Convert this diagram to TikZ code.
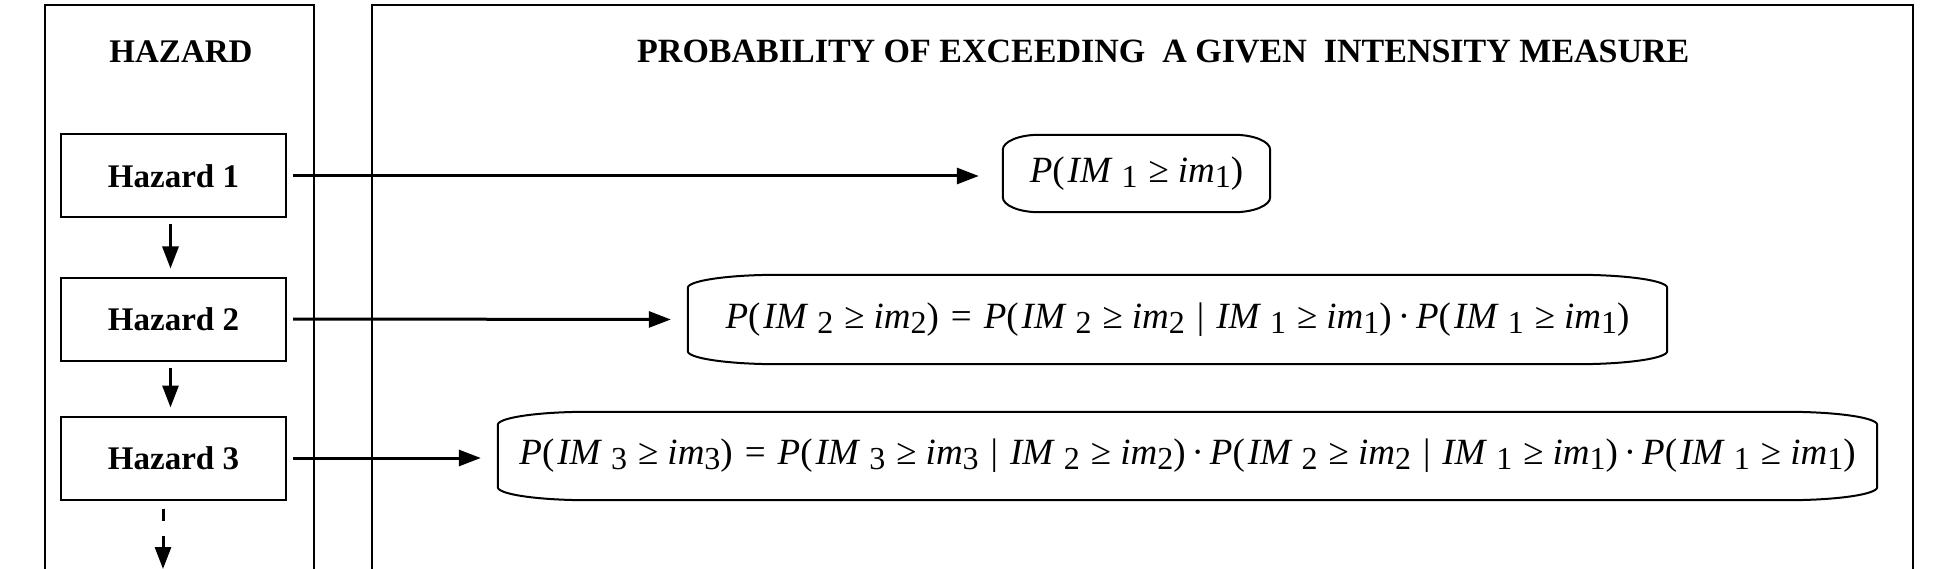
\documentclass[tikz,border=0pt]{standalone}
\usepackage{fontspec}
\setmainfont{Liberation Serif}
\usetikzlibrary{arrows.meta,calc}
\newcommand\flo[1]{\raisebox{-5pt}{\fontsize{32pt}{34pt}\selectfont #1}}
\newcommand\fP{\textit{P}(\hspace{3pt}}
\newcommand\fIM[1]{\textit{IM}\hspace{9pt}\flo{#1}}
\newcommand\fim[1]{\textit{im}\flo{#1}}
\newcommand\fge{\hspace{11pt}≥\hspace{9pt}}
\newcommand\feq{\hspace{12pt}=\hspace{12pt}}
\newcommand\fbar{\hspace{12pt}|\hspace{12pt}}
\newcommand\fdot{\hspace{6pt}·\hspace{6pt}}
\newcommand\ovalframe[3]{%
 \draw[frame] ($(#1.north west)+(0,#3)$) .. controls ($(#1.north west)+(0,0.45*#3)$) and ($(#1.north west)+(0.45*#2,0)$) .. ($(#1.north west)+(#2,0)$)
 -- ($(#1.north east)+(-#2,0)$) .. controls ($(#1.north east)+(-0.45*#2,0)$) and ($(#1.north east)+(0,0.45*#3)$) .. ($(#1.north east)+(0,#3)$)
 -- ($(#1.south east)+(0,-#3)$) .. controls ($(#1.south east)+(0,-0.45*#3)$) and ($(#1.south east)+(-0.45*#2,0)$) .. ($(#1.south east)+(-#2,0)$)
 -- ($(#1.south west)+(#2,0)$) .. controls ($(#1.south west)+(0.45*#2,0)$) and ($(#1.south west)+(0,-0.45*#3)$) .. ($(#1.south west)+(0,-#3)$) -- cycle;}
\tikzset{
 panel/.style={line width=2pt},
 hz/.style={draw, line width=2pt, minimum width=225pt, minimum height=83pt, inner sep=0pt, font=\fontsize{33pt}{36pt}\selectfont\bfseries},
 ttl/.style={inner sep=0pt, font=\fontsize{33pt}{36pt}\selectfont\bfseries},
 fm/.style={inner sep=0pt, font=\fontsize{37pt}{40pt}\selectfont},
 frame/.style={line width=2pt},
 conn/.style={line width=3pt, -{Triangle[length=22pt,width=16pt]}, shorten <=6pt, shorten >=17pt},
 varrow/.style={line width=3pt, -{Triangle[length=22pt,width=16pt]}, shorten <=6pt, shorten >=8pt}
}
\begin{document}
\begin{tikzpicture}[x=1pt,y=-1pt]
\useasboundingbox (0,0) rectangle (1945,569);
\fill[white] (0,0) rectangle (1945,569);
% panels
\draw[panel] (45,569) -- (45,5) -- (314,5) -- (314,569);
\draw[panel] (372,569) -- (372,5) -- (1913,5) -- (1913,569);
% titles
\node[ttl] (th) at (181,52) {HAZARD};
\node[ttl, font=\fontsize{34pt}{36pt}\selectfont\bfseries, anchor=west] (tp) at (637,52) {PROBABILITY OF EXCEEDING\ \ A GIVEN\ \ INTENSITY MEASURE};
% hazards
\node[hz] (h1) at (173.5,176) {Hazard 1};
\node[hz] (h2) at (173.5,319) {Hazard 2};
\node[hz] (h3) at (173.5,458) {Hazard 3};
% formulas
\node[fm, minimum width=267pt, minimum height=77pt] (f1) at (1136.5,173.5) {\fP\fIM{1}\fge\fim{1})};
\node[fm, minimum width=979pt, minimum height=89pt] (f2) at (1177.5,319.5) {\fP\fIM{2}\fge\fim{2})\feq\fP\fIM{2}\fge\fim{2}\fbar\fIM{1}\fge\fim{1})\fdot\fP\fIM{1}\fge\fim{1})};
\node[fm, minimum width=1379pt, minimum height=88pt] (f3) at (1187.5,456) {\fP\fIM{3}\fge\fim{3})\feq\fP\fIM{3}\fge\fim{3}\fbar\fIM{2}\fge\fim{2})\fdot\fP\fIM{2}\fge\fim{2}\fbar\fIM{1}\fge\fim{1})\fdot\fP\fIM{1}\fge\fim{1})};
\ovalframe{f1}{36}{15}
\ovalframe{f2}{90}{13}
\ovalframe{f3}{90}{13}
% connectors
\draw[conn, shorten >=24pt] (h1.east) -- (h1.east -| f1.west);
\draw[conn] (h2.east) -- (f2.west);
\draw[conn] (h3.east) -- (h3.east -| f3.west);
\draw[varrow] ([xshift=-3pt]h1.south) -- ([xshift=-3pt]h2.north);
\draw[varrow] ([xshift=-3pt]h2.south) -- ([xshift=-3pt]h3.north);
\coordinate (hend) at (163,569);
\draw[varrow, shorten >=0pt, shorten <=8pt, dash pattern=on 12pt off 15pt on 60pt off 1pt] (h3.south -| hend) -- (hend);
\end{tikzpicture}
\end{document}
